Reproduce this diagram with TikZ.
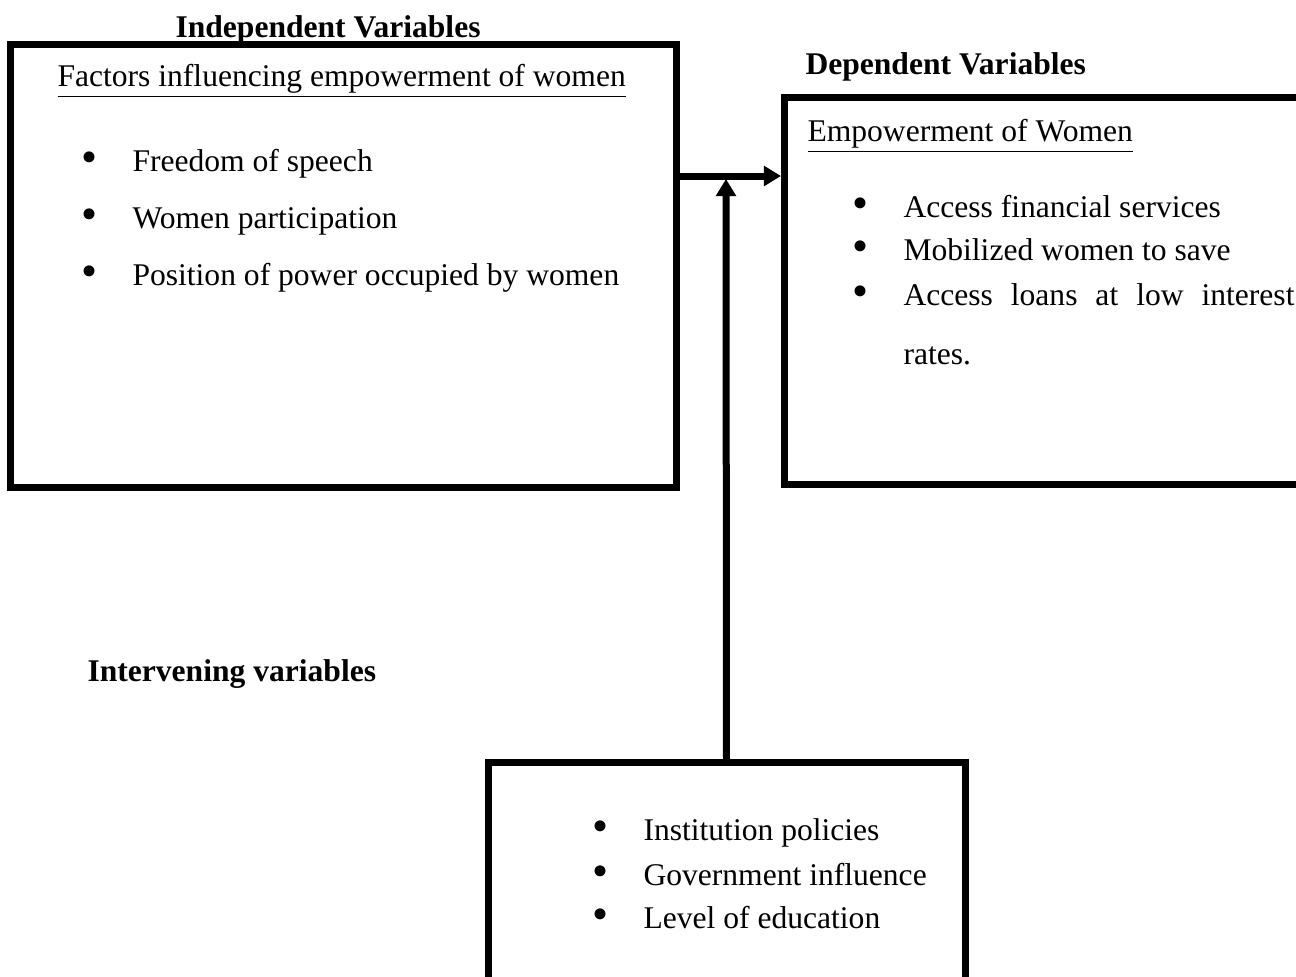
\documentclass[tikz,border=0pt]{standalone}
\usepackage{fontspec}
\usepackage{graphicx}
\setmainfont{Liberation Serif}
\usetikzlibrary{arrows.meta}
\newlength{\unitpx}
\setlength{\unitpx}{0.38pt}
\newcommand{\txtsize}{\fontsize{12}{14}\selectfont}
\newcommand{\itm}[1]{\llap{\raisebox{-0.6pt}{\scalebox{1.45}{\textbullet}}\hspace{35\unitpx}}#1}
\tikzset{
    frame/.style={draw, rectangle, line width=7*\unitpx, anchor=north west, inner sep=0pt, outer sep=0pt},
    heading/.style={anchor=base west, inner sep=0pt, font=\txtsize\bfseries},
    caption/.style={anchor=base west, inner sep=0pt, font=\txtsize},
    entry/.style={anchor=base west, inner sep=0pt, font=\txtsize},
    flow/.style={line width=7*\unitpx, -{Triangle[length=6.5pt, width=7.4pt]}}
}
\begin{document}
\begin{tikzpicture}[x=\unitpx, y=-\unitpx]
    \clip (0,0) rectangle (1296,977);
    % boxes
    \node[frame, minimum width=666*\unitpx, minimum height=443*\unitpx] (indep) at (10,44) {};
    \node[frame, minimum width=600*\unitpx, minimum height=387*\unitpx] (dep) at (784,97) {};
    \node[frame, minimum width=477*\unitpx, minimum height=300*\unitpx] (interv) at (488,762) {};
    % headings
    \node[heading] (indeptitle) at (175,37) {Independent Variables};
    \node[heading] (deptitle) at (805,74) {Dependent Variables};
    \node[heading] (intervtitle) at (87,681) {Intervening variables};
    \node[caption] (indepcap) at (57,86) {\underline{Factors influencing empowerment of women}};
    \node[caption] (depcap) at (807,141) {\underline{Empowerment of Women}};
    % independent
    \node[entry] (speech) at (132,171) {\itm{Freedom of speech}};
    \node[entry] (part) at (132,228) {\itm{Women participation}};
    \node[entry] (power) at (132,285) {\itm{Position of power occupied by women}};
    % dependent
    \node[entry] (finance) at (903,217) {\itm{Access financial services}};
    \node[entry] (save) at (903,260) {\itm{Mobilized women to save}};
    \node[entry] (loans) at (903,305) {\itm{\makebox[391\unitpx][s]{Access loans at low interest}}};
    \node[entry] (rates) at (903,364) {rates.};
    % intervening
    \node[entry] (policy) at (643,840) {\itm{Institution policies}};
    \node[entry] (gov) at (643,885) {\itm{Government influence}};
    \node[entry] (edu) at (643,928) {\itm{Level of education}};
    % connectors
    \coordinate (join) at (726,176);
    \draw[flow, shorten >=3\unitpx] (indep.east |- join) -- (dep.west |- join);
    \draw[flow, shorten >=3\unitpx] (interv.north) -- (join);
\end{tikzpicture}
\end{document}
